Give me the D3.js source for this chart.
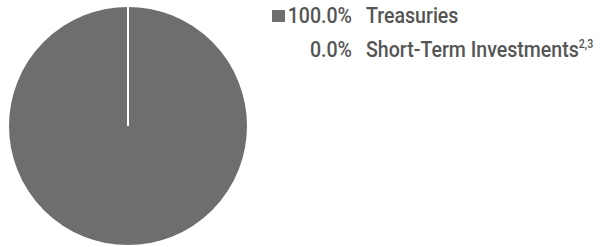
<!DOCTYPE html>
<html>
<head>
<meta charset="utf-8">
<script src="https://cdn.jsdelivr.net/npm/d3@7"></script>
<style>
  body { margin: 0; background: #fff; }
  svg { display: block; font-family: Roboto, "Liberation Sans", sans-serif; }
</style>
</head>
<body>
<svg width="602" height="247"></svg>
<script>
const width = 602, height = 247;
const categories = ["Treasuries", "Short-Term Investments"];
const values = [100.0, 0.0];
const notes = ["", "2,3"];
const colors = ["#6e6e6e", "#b5b5b5"];

const svg = d3.select("svg");
const radius = 120;
const g = svg.append("g").attr("transform", `translate(128,126)`);

const pie = d3.pie().sort(null).value(d => d);
const arc = d3.arc().innerRadius(0).outerRadius(radius);

g.selectAll("path")
  .data(pie(values))
  .enter()
  .append("path")
  .attr("d", arc)
  .attr("fill", (d, i) => colors[i])
  .attr("stroke", "#fff")
  .attr("stroke-width", 2);

// Legend (text squeezed horizontally to mimic the condensed face)
const sx = 0.89;
const rows = svg.append("g").selectAll("g")
  .data(categories)
  .enter()
  .append("g")
  .attr("transform", (d, i) => `translate(0,${23 + i * 34})`);

rows.filter((d, i) => values[i] > 0)
  .append("rect")
  .attr("x", 272).attr("y", -13)
  .attr("width", 13).attr("height", 12)
  .attr("fill", (d, i) => colors[i]);

rows.append("text")
  .attr("transform", `translate(352,0) scale(${sx},1)`)
  .attr("text-anchor", "end")
  .attr("font-size", 22)
  .attr("font-weight", 500)
  .attr("fill", "#555")
  .text((d, i) => values[i].toFixed(1) + "%");

const label = rows.append("text")
  .attr("transform", `translate(366,0) scale(${sx},1)`)
  .attr("font-size", 22)
  .attr("font-weight", 500)
  .attr("fill", "#555")
  .text(d => d);

label.filter((d, i) => notes[i])
  .append("tspan")
  .attr("font-size", 12)
  .attr("dy", -9)
  .text(d => notes[categories.indexOf(d)]);
</script>
</body>
</html>
